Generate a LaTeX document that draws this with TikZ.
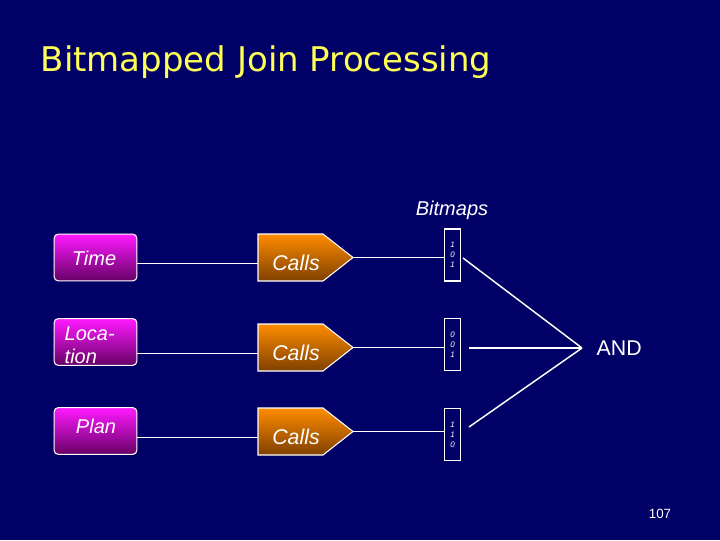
\documentclass[tikz,border=0pt]{standalone}
\usepackage{fontspec}
\setmainfont{Liberation Sans}
\newfontfamily\titlefont{DejaVu Sans}
\usetikzlibrary{shapes.geometric}
\definecolor{bg}{HTML}{000066}
\definecolor{ttl}{HTML}{FFFF55}
\begin{document}
\begin{tikzpicture}[x=0.75pt,y=-0.75pt,
  dim/.style={draw=white,line width=0.8pt,rounded corners=3pt,top color=magenta!90!white,bottom color=violet!80!black,minimum width=62pt,minimum height=35pt,inner sep=0pt},
  bm/.style={draw=white,line width=0.8pt,minimum width=12.5pt,minimum height=39pt,inner sep=0pt,align=center,font=\itshape\fontsize{6}{7.5}\selectfont,text=white},
  ln/.style={white,line width=1.1pt}]
\fill[bg] (0,0) rectangle (720,540);
\node[anchor=west,text=ttl,font=\titlefont\fontsize{25.5}{28}\selectfont] (title) at (36,62) {Bitmapped Join Processing};
\node[text=white,font=\itshape\fontsize{15}{18}\selectfont] (bml) at (452,210) {Bitmaps};
\foreach \i/\y/\dy/\by/\bits in {1/257.5/257.5/255/{1\\0\\1},2/347.5/342/344.5/{0\\0\\1},3/431.5/431/434.5/{1\\1\\0}}{
  \node[dim] (d\i) at (95.5,\dy) {};
  \fill[top color=orange!90!yellow,bottom color=orange!50!black,draw=white,line width=0.8pt]
    (258,\y-23.5) -- (323,\y-23.5) -- (353,\y) -- (323,\y+23.5) -- (258,\y+23.5) -- cycle;
  \node[text=white,font=\itshape\fontsize{16}{18}\selectfont] (c\i) at (296,\y+5) {Calls};
  \coordinate (cl\i) at (258,\y+6);
  \coordinate (ct\i) at (353,\y);
  \node[bm] (b\i) at (452.5,\by) {\bits};
}
\node[text=white,font=\itshape\fontsize{15}{13}\selectfont] (t1) at (94,258) {Time};
\node[text=white,font=\itshape\fontsize{15}{17}\selectfont,align=left,anchor=west] (t2) at (60,345) {Loca-\\tion};
\node[text=white,font=\itshape\fontsize{15}{13}\selectfont] (t3) at (96,426) {Plan};
\foreach \i in {1,2,3}{
  \draw[ln] (d\i.east|-cl\i) -- (cl\i);
  \draw[ln] (ct\i) -- (b\i.west|-ct\i);
}
\coordinate (j) at (582,348);
\node[anchor=west,text=white,font=\fontsize{16}{18}\selectfont] (and) at (592,348) {AND};
\draw[ln] (463,258) -- (j);
\draw[ln] (469,348) -- (j);
\draw[ln] (469,427) -- (j);
\node[text=white,font=\fontsize{10}{12}\selectfont] (pg) at (660,514) {107};
\end{tikzpicture}
\end{document}
